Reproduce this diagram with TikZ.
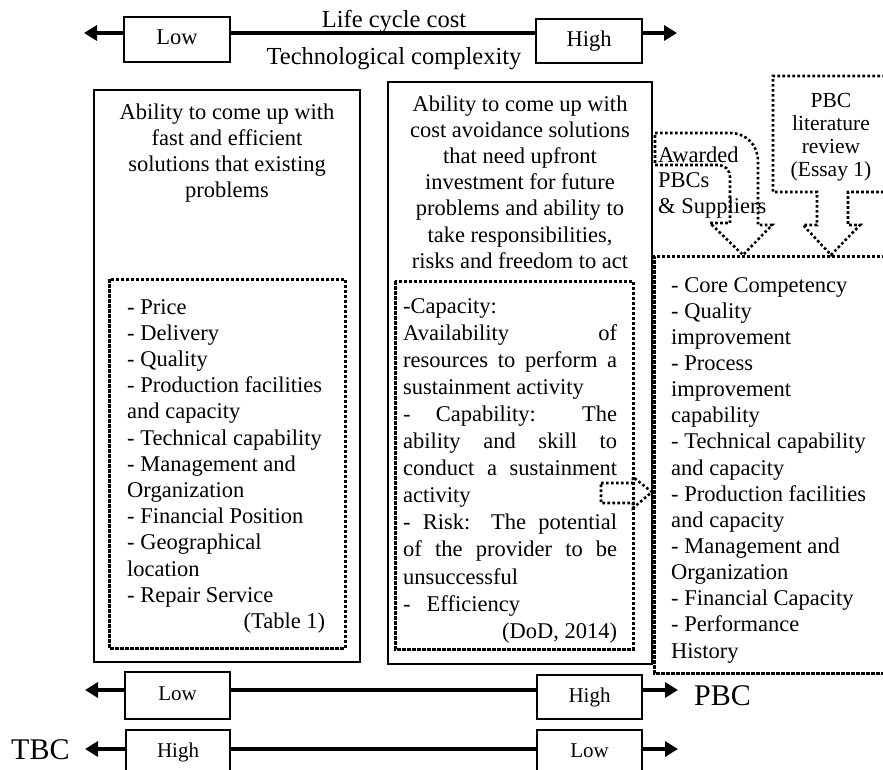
\documentclass[tikz,border=0pt]{standalone}
\usepackage{fontspec}
\setmainfont{Liberation Serif}
\usetikzlibrary{arrows.meta}
% vertical stack of single-line boxes with a fixed baseline distance;
% the baseline of the whole stack is that of its first line
\newcommand{\linestack}[2]{\vtop{\baselineskip=#1\relax\lineskiplimit=-100pt #2}}
\newcommand{\ctr}[1]{\hbox to 260pt{\hfil#1\hfil}}
\newcommand{\jst}[1]{\hbox{\makebox[214pt][s]{#1}}}
\begin{document}
\begin{tikzpicture}[x=1pt,y=-1pt,
  every node/.style={inner sep=0pt, font=\fontsize{22.5}{26}\selectfont},
  solidbox/.style={draw, line width=2.5pt},
  rangebox/.style={draw, line width=2pt, fill=white, minimum width=106pt,
    minimum height=45pt, text height=15pt, text depth=4.5pt},
  axisarrow/.style={line width=4pt,
    {Triangle[length=13pt,width=15pt]}-{Triangle[length=13pt,width=15pt]}},
  squaredots/.style={line width=3pt, dash pattern=on 3.5pt off 1.5pt},
  rounddots/.style={line width=2.6pt, dash pattern=on 2.6pt off 2.4pt},
  smalltext/.style={font=\fontsize{21}{24}\selectfont},
  bigtext/.style={font=\fontsize{24.5}{28}\selectfont},
  hugetext/.style={font=\fontsize{30}{34}\selectfont},
]
\useasboundingbox (0,0) rectangle (883,769);

% ---- top scale: life cycle cost / technological complexity
\coordinate (tl) at (84,33);
\coordinate (tr) at (677,33);
\draw[axisarrow] (tl) -- (tr);
\node[rangebox] (lowT) at (177,39.5) {Low};
\node[rangebox, minimum height=44pt] (highT) at (589,41) {High};
\node[bigtext, anchor=base] (lcc) at (394,27) {Life cycle cost};
\node[bigtext, anchor=base] (tcx) at (394,64) {Technological complexity};

% ---- bottom scales: PBC and TBC
\coordinate (pl) at (85,690);
\coordinate (pr) at (678,690);
\draw[axisarrow] (pl) -- (pr);
\node[rangebox, smalltext, minimum width=105pt, minimum height=47pt] (lowP) at (177.5,695.5) {Low};
\node[rangebox, smalltext, minimum width=105pt, minimum height=44pt] (highP) at (589.5,697) {High};
\node[hugetext, anchor=base west] (pbc) at (694,705) {PBC};

\coordinate (ql) at (85,749);
\coordinate (qr) at (678,749);
\draw[axisarrow] (ql) -- (qr);
\node[rangebox, smalltext, minimum width=104pt, minimum height=44pt] (highQ) at (178,752) {High};
\node[rangebox, smalltext, minimum width=105pt, minimum height=44pt] (lowQ) at (589.5,752) {Low};
\node[hugetext, anchor=base west] (tbc) at (11,759) {TBC};

% ---- main columns
\draw[solidbox] (94,90) rectangle (360,662);
\draw[solidbox] (388,82) rectangle (652,664);
\draw[squaredots] (109,279) rectangle (345,648);
\draw[squaredots] (395,281) rectangle (633,649);
% open region on the right
\draw[squaredots] (890,256) -- (654,256) -- (654,673) -- (890,673);

% ---- dotted block arrows
\draw[rounddots] (655,133) -- (730,133) .. controls (746,133) and (758,145) .. (758,161)
  -- (758,225) -- (772,225) -- (743,255) -- (710,223) -- (730,223) -- (730,177)
  .. controls (730,170) and (725,165) .. (718,165) -- (655,165) -- cycle;
\draw[rounddots] (890,76) -- (773,76) -- (773,192) -- (817,192) -- (817,225)
  -- (803,225) -- (831,255) -- (860,225) -- (848,225) -- (848,192) -- (890,192);
\draw[rounddots] (601,483) -- (633,483) -- (633,477) -- (652,492) -- (633,508)
  -- (633,503) -- (601,503) -- cycle;

% ---- texts
\node[anchor=base] (lhead) at (227,119) {\linestack{26.3pt}{%
  \ctr{Ability to come up with}\ctr{fast and efficient}%
  \ctr{solutions that existing}\ctr{problems}}};
\node[anchor=base] (mhead) at (520,111) {\linestack{26.2pt}{%
  \ctr{Ability to come up with}\ctr{cost avoidance solutions}%
  \ctr{that need upfront}\ctr{investment for future}%
  \ctr{problems and ability to}\ctr{take responsibilities,}%
  \ctr{risks and freedom to act}}};

\node[anchor=base west] (llist) at (127,314) {\linestack{26.2pt}{%
  \hbox{- Price}\hbox{- Delivery}\hbox{- Quality}%
  \hbox{- Production facilities}\hbox{and capacity}%
  \hbox{- Technical capability}\hbox{- Management and}%
  \hbox{Organization}\hbox{- Financial Position}%
  \hbox{- Geographical}\hbox{location}\hbox{- Repair Service}%
  \hbox to 198pt{\hfil(Table 1)}}};

\node[anchor=base west] (mlist) at (403,313) {\linestack{27.1pt}{%
  \hbox{-Capacity:}\jst{Availability of}\jst{resources to perform a}%
  \hbox{sustainment activity}\jst{- Capability: The}%
  \jst{ability and skill to}\jst{conduct a sustainment}\hbox{activity}%
  \jst{- Risk: The potential}\jst{of the provider to be}%
  \hbox{unsuccessful}\hbox{-\hspace{16pt}Efficiency}%
  \hbox to 214pt{\hfil(DoD, 2014)}}};

\node[anchor=base west] (rlist) at (671,292) {\linestack{26.15pt}{%
  \hbox{- Core Competency}\hbox{- Quality}\hbox{improvement}%
  \hbox{- Process}\hbox{improvement}\hbox{capability}%
  \hbox{- Technical capability}\hbox{and capacity}%
  \hbox{- Production facilities}\hbox{and capacity}%
  \hbox{- Management and}\hbox{Organization}%
  \hbox{- Financial Capacity}\hbox{- Performance}\hbox{History}}};

\node[anchor=base west] (award) at (658,162) {\linestack{25.5pt}{%
  \hbox{Awarded}\hbox{PBCs}\hbox{\& Suppliers}}};
\node[font=\fontsize{21.5}{24}\selectfont, anchor=base] (litrev) at (831,107) {\linestack{23.3pt}{%
  \ctr{PBC}\ctr{literature}\ctr{review}\ctr{(Essay 1)}}};
\end{tikzpicture}
\end{document}
